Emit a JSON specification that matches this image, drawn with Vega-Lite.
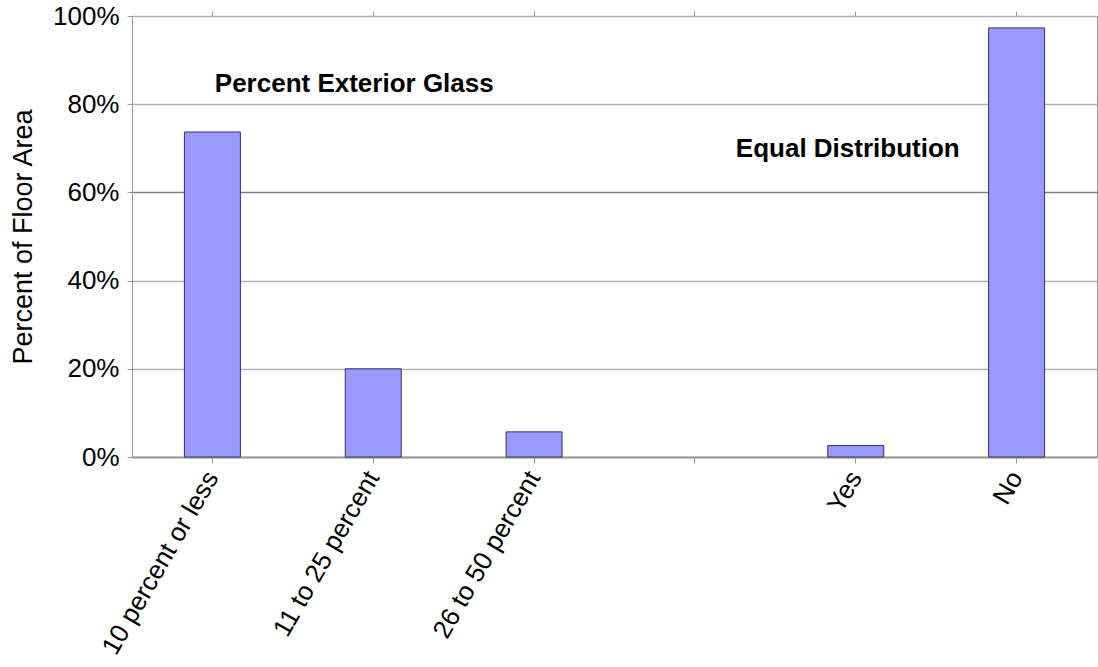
{
  "$schema": "https://vega.github.io/schema/vega-lite/v6.json",
  "width": 965,
  "height": 441,
  "autosize": {"type": "none"},
  "padding": {"left": 132, "top": 16, "right": 1, "bottom": 210},
  "background": "white",
  "config": {
    "font": "Liberation Sans",
    "view": {"stroke": "#999999", "strokeWidth": 1}
  },
  "data": {
    "values": [
      {"cat": "10 percent or less", "value": 0.737},
      {"cat": "11 to 25 percent", "value": 0.200},
      {"cat": "26 to 50 percent", "value": 0.057},
      {"cat": "Yes", "value": 0.026},
      {"cat": "No", "value": 0.973}
    ]
  },
  "layer": [
    {
      "mark": {"type": "bar", "fill": "#9999ff", "stroke": "#333366", "strokeWidth": 1},
      "encoding": {
        "x": {
          "field": "cat",
          "type": "nominal",
          "sort": null,
          "scale": {
            "domain": ["10 percent or less", "11 to 25 percent", "26 to 50 percent", " ", "Yes", "No"],
            "paddingInner": 0.652,
            "paddingOuter": 0.326
          },
          "axis": {
            "title": null,
            "labelAngle": -60,
            "labelFontSize": 26,
            "labelLimit": 400,
            "labelColor": "#000000",
            "labelPadding": 10,
            "tickColor": "#999999",
            "tickSize": 6,
            "domainColor": "#999999",
            "domainWidth": 2,
            "grid": false
          }
        },
        "y": {
          "field": "value",
          "type": "quantitative",
          "scale": {"domain": [0, 1], "nice": false},
          "axis": {
            "title": "Percent of Floor Area",
            "titleFontSize": 27,
            "titleFontWeight": "normal",
            "titleColor": "#000000",
            "titlePadding": 15,
            "format": ".0%",
            "values": [0, 0.2, 0.4, 0.6, 0.8, 1],
            "labelFontSize": 26,
            "labelColor": "#000000",
            "labelPadding": 8,
            "tickColor": "#999999",
            "tickSize": 5,
            "domainColor": "#999999",
            "gridColor": {"condition": {"test": "datum.value === 0.6", "value": "#808080"}, "value": "#b0b0b0"},
            "gridWidth": 1.5
          }
        }
      }
    },
    {
      "data": {"values": [
        {"cat": "11 to 25 percent", "value": 0.846, "label": "Percent Exterior Glass"}
      ]},
      "mark": {"type": "text", "fontSize": 26, "fontWeight": "bold", "color": "#000000", "align": "center", "baseline": "middle", "dx": -19},
      "encoding": {
        "x": {"field": "cat", "type": "nominal", "sort": null, "axis": null},
        "y": {"field": "value", "type": "quantitative"},
        "text": {"field": "label"}
      }
    },
    {
      "data": {"values": [
        {"cat": "Yes", "value": 0.698, "label": "Equal Distribution"}
      ]},
      "mark": {"type": "text", "fontSize": 26, "fontWeight": "bold", "color": "#000000", "align": "center", "baseline": "middle", "dx": -8},
      "encoding": {
        "x": {"field": "cat", "type": "nominal", "sort": null, "axis": null},
        "y": {"field": "value", "type": "quantitative"},
        "text": {"field": "label"}
      }
    },
    {
      "mark": {"type": "rule", "opacity": 0},
      "encoding": {
        "x": {
          "field": "cat",
          "type": "nominal",
          "axis": {"orient": "top", "labels": false, "domain": false, "title": null, "tickColor": "#999999", "tickSize": 5, "grid": false}
        }
      }
    }
  ],
  "resolve": {"axis": {"x": "independent"}}
}
